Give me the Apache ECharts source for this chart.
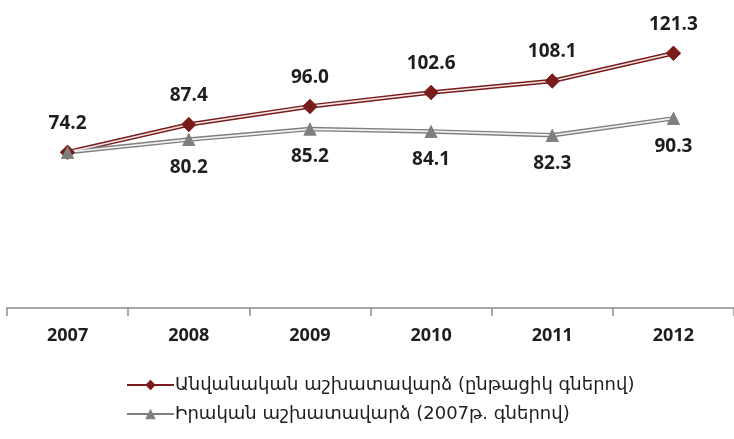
<!DOCTYPE html>
<html>
<head>
<meta charset="utf-8">
<script src="https://cdn.jsdelivr.net/npm/echarts@6/dist/echarts.min.js"></script>
<style>
  html, body { margin: 0; padding: 0; background: #fff; }
  #chart { width: 734px; height: 439px; }
</style>
</head>
<body>
<div id="chart"></div>
<script>
const years = ['2007', '2008', '2009', '2010', '2011', '2012']
const nominalName = 'Անվանական աշխատավարձ (ընթացիկ գներով)'
const realName = 'Իրական աշխատավարձ (2007թ. գներով)'
const nominalValues = [74.2, 87.4, 96.0, 102.6, 108.1, 121.3]
const realValues = [74.2, 80.2, 85.2, 84.1, 82.3, 90.3]

const red = '#7a1c1c'
const grey = '#7f7f7f'

const labelFont = {
  fontFamily: 'Open Sans',
  fontWeight: 'bold',
  fontSize: 19,
  color: '#1e1e1e'
}

// each line is drawn as a thick outline + a thin light core, markers on top
function layers(name, values, color, core, symbol, size, labelPos, hideFirst) {
  return [
    {
      name: name,
      type: 'line',
      data: values,
      z: 2,
      symbol: symbol,
      symbolSize: size,
      color: color,
      itemStyle: { color: color },
      lineStyle: { color: color, width: 4.5 },
      emphasis: { disabled: true }
    },
    {
      name: name + '_core',
      type: 'line',
      data: values,
      z: 3,
      symbol: 'none',
      silent: true,
      lineStyle: { color: core, width: 1.6 }
    },
    {
      name: name + '_marks',
      type: 'line',
      data: values.map((v, i) => (hideFirst && i === 0 ? { value: v, label: { show: false } } : v)),
      z: 4,
      symbol: symbol,
      symbolSize: size,
      itemStyle: { color: color },
      lineStyle: { width: 0, opacity: 0 },
      label: {
        show: true,
        position: labelPos,
        distance: 12,
        formatter: (p) => p.value.toFixed(1),
        ...labelFont
      },
      emphasis: { disabled: true }
    }
  ]
}

const chart = echarts.init(document.getElementById('chart'))
chart.setOption({
  animation: false,
  grid: { left: 7, width: 733, top: 14, bottom: 131 },
  xAxis: {
    type: 'category',
    data: years,
    boundaryGap: true,
    axisLine: { lineStyle: { color: '#8c8c8c', width: 1.5 } },
    axisTick: { show: true, length: 8, lineStyle: { color: '#8c8c8c', width: 1.5 } },
    axisLabel: { margin: 19, ...labelFont, fontSize: 18 }
  },
  yAxis: {
    type: 'value',
    min: 0,
    max: 140,
    show: false,
    splitLine: { show: false }
  },
  legend: {
    data: [nominalName, realName],
    orient: 'vertical',
    left: 121,
    top: 371,
    itemWidth: 47,
    itemHeight: 13,
    itemGap: 11,
    textStyle: { fontFamily: 'DejaVu Sans', fontSize: 18, color: '#1e1e1e', padding: [0, 0, 0, -4] }
  },
  series: [
    ...layers(nominalName, nominalValues, red, '#f3e6e6', 'diamond', 15, 'top', false),
    ...layers(realName, realValues, grey, '#f2f2f2', 'triangle', 13, 'bottom', true)
  ]
})
</script>
</body>
</html>
